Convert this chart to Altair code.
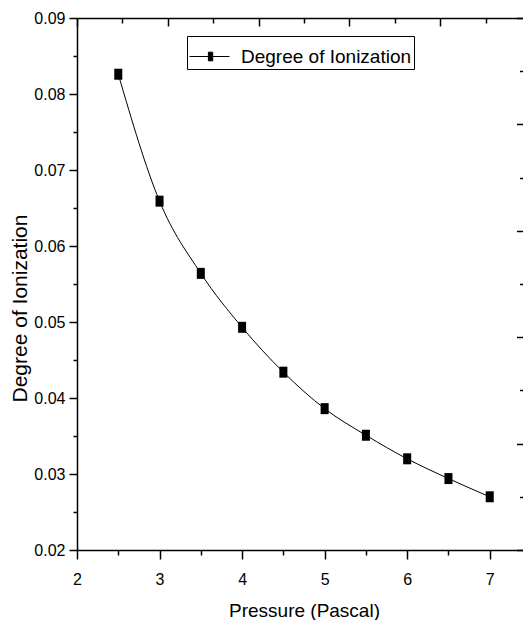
import altair as alt
import pandas as pd

pressure = [2.5, 3.0, 3.5, 4.0, 4.5, 5.0, 5.5, 6.0, 6.5, 7.0]
ionization = [0.0826, 0.0659, 0.0564, 0.0493, 0.0434, 0.0386, 0.0351, 0.0320, 0.0294, 0.0270]
series_name = "Degree of Ionization"

x_major = [2, 3, 4, 5, 6, 7]
x_minor = [2.5, 3.5, 4.5, 5.5, 6.5]
y_major = [0.02, 0.03, 0.04, 0.05, 0.06, 0.07, 0.08, 0.09]
y_minor = [0.025, 0.035, 0.045, 0.055, 0.065, 0.075, 0.085]
top_major = [0, 2, 4, 6, 8, 10]
top_minor = [1, 3, 5, 7, 9]
right_major = [0, 1, 2, 3, 4, 5]
right_minor = [0.5, 1.5, 2.5, 3.5, 4.5]

df = pd.DataFrame({"P": pressure, "D": ionization, "series": [series_name] * len(pressure)})

W, H = 454, 532
RIGHT_EDGE = 445.5
FONT = "Liberation Sans, Arial, sans-serif"
XD = [2, 7.5]
YD = [0.02, 0.09]

base = alt.Chart(df)

line = base.mark_line(color="black", strokeWidth=1, interpolate="monotone").encode(
    x=alt.X("P:Q", scale=alt.Scale(domain=XD, nice=False, zero=False),
            axis=alt.Axis(orient="bottom", values=x_major, tickSize=9, tickWidth=1.5,
                          domainWidth=1.5, domainColor="black", tickColor="black",
                          labelColor="black", labelFont=FONT, labelFontSize=16,
                          labelPadding=12, title="Pressure (Pascal)", titleFont=FONT,
                          titleFontSize=19, titleFontWeight="normal", titleColor="black",
                          titlePadding=14, grid=False, labelFlush=False)),
    y=alt.Y("D:Q", scale=alt.Scale(domain=YD, nice=False, zero=False),
            axis=alt.Axis(orient="left", values=y_major, format=".2f", tickSize=8,
                          tickWidth=1.5, domainWidth=1.5, domainColor="black",
                          tickColor="black", labelColor="black", labelFont=FONT,
                          labelFontSize=16, labelPadding=4, title="Degree of Ionization",
                          titleFont=FONT, titleFontSize=21, titleFontWeight="normal",
                          titleColor="black", titleX=-47, titleY=290, grid=False,
                          labelFlush=False)),
)

points = base.mark_point(
    shape="M-0.73,-1H0.73V1H-0.73Z", filled=True, size=121, opacity=1
).encode(
    x=alt.X("P:Q", scale=alt.Scale(domain=XD, nice=False, zero=False),
            axis=alt.Axis(orient="bottom", values=x_minor, tickSize=5, tickWidth=1.5,
                          tickColor="black", domain=False, labels=False, title="",
                          grid=False)),
    y=alt.Y("D:Q", scale=alt.Scale(domain=YD, nice=False, zero=False),
            axis=alt.Axis(orient="left", values=y_minor, tickSize=4, tickWidth=1.5,
                          tickColor="black", domain=False, labels=False, title="",
                          grid=False)),
    color=alt.Color("series:N", scale=alt.Scale(range=["black"]),
                    legend=alt.Legend(orient="none", legendX=110, legendY=18,
                                      title=None, strokeColor="black", padding=2,
                                      symbolType="M-1,0H1.22M0.05,-0.24H0.29V0.24H0.05Z",
                                      symbolSize=1296, symbolStrokeColor="black",
                                      symbolStrokeWidth=1, labelOffset=15,
                                      labelFont=FONT, labelFontSize=19,
                                      labelColor="black", labelLimit=400)),
)

frame_major = base.mark_point(opacity=0).encode(
    x=alt.X("P:Q", scale=alt.Scale(domain=[0, 10], nice=False, zero=False),
            axis=alt.Axis(orient="bottom", offset=-H, values=top_major, tickSize=8,
                          tickWidth=1.5, tickColor="black", domain=True,
                          domainColor="black", domainWidth=1.5, labels=False,
                          title="", grid=False)),
    y=alt.Y("D:Q", scale=alt.Scale(domain=[0, 5], nice=False, zero=False),
            axis=alt.Axis(orient="left", offset=-RIGHT_EDGE, values=right_major, tickSize=6,
                          tickWidth=1.5, tickColor="black", domain=False,
                          labels=False, title="", grid=False)),
)

frame_minor = base.mark_point(opacity=0).encode(
    x=alt.X("P:Q", scale=alt.Scale(domain=[0, 10], nice=False, zero=False),
            axis=alt.Axis(orient="bottom", offset=-H, values=top_minor, tickSize=5,
                          tickWidth=1.5, tickColor="black", domain=False,
                          labels=False, title="", grid=False)),
    y=alt.Y("D:Q", scale=alt.Scale(domain=[0, 5], nice=False, zero=False),
            axis=alt.Axis(orient="left", offset=-RIGHT_EDGE, values=right_minor, tickSize=3,
                          tickWidth=1.5, tickColor="black", domain=False,
                          labels=False, title="", grid=False)),
)

chart = alt.layer(frame_major, frame_minor, line, points).resolve_scale(
    x="independent", y="independent"
).resolve_axis(
    x="independent", y="independent"
).properties(
    width=W, height=H,
    autosize=alt.AutoSizeParams(type="none"),
    padding={"left": 69, "top": 10, "right": -8, "bottom": 70},
).configure_view(stroke="transparent").configure(font=FONT)

chart.save("out.html", embed_options={"renderer": "svg", "actions": False})
